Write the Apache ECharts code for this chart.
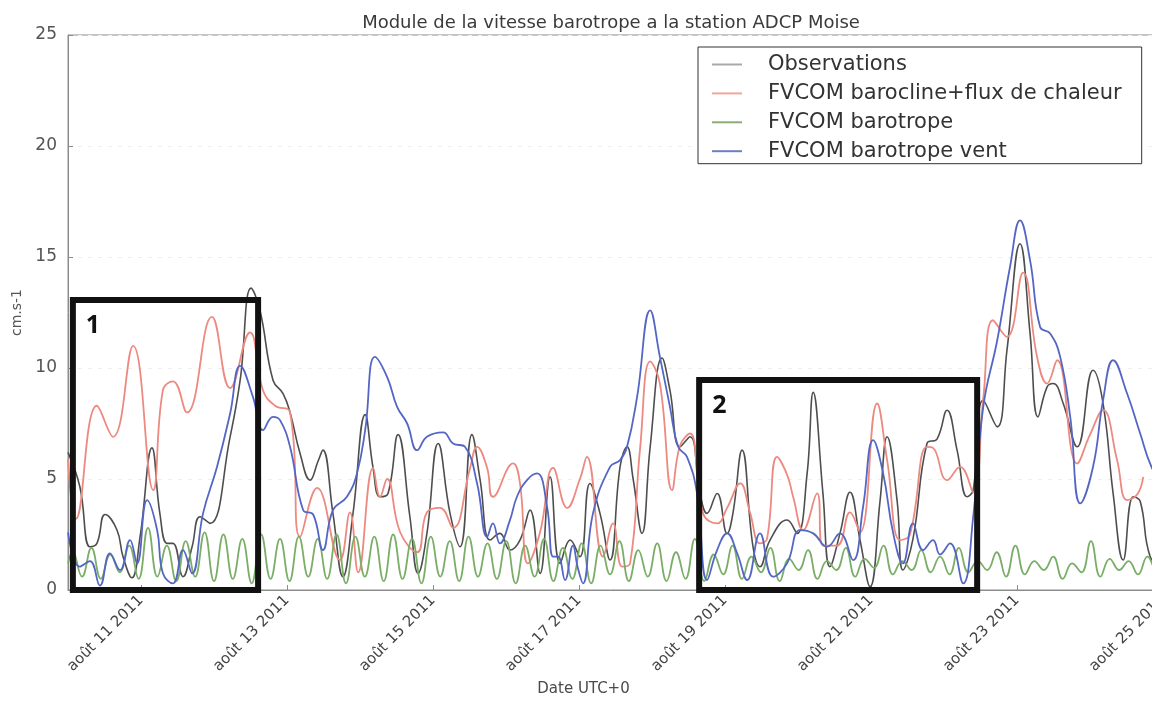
<!DOCTYPE html>
<html>
<head>
<meta charset="utf-8">
<title>Module de la vitesse barotrope</title>
<script src="https://cdn.jsdelivr.net/npm/echarts@6/dist/echarts.min.js"></script>
<style>
  html, body { margin: 0; padding: 0; background: #ffffff; }
  #chart { width: 1152px; height: 706px; }
</style>
</head>
<body>
<div id="chart"></div>
<script>
// Time is given in hours since 10 août 2011 00:00 UTC; speeds in cm/s.
const seriesNames = [
  'Observations',
  'FVCOM barocline+flux de chaleur',
  'FVCOM barotrope',
  'FVCOM barotrope vent'
];

const observations = [
  [0, 6.2], [3.9, 4.65], [7.2, 1.95], [9.5, 2.1], [12.2, 3.4], [16.1, 2.7], [18.1, 1.5],
  [21.0, 0.55], [23.7, 2.4], [27.6, 6.4], [30.2, 3.45], [32.6, 2.1], [34.5, 2.1], [37.8, 0.6],
  [40.8, 1.95], [43.4, 3.3], [46.7, 3.0], [53.3, 6.9], [56.6, 9.45], [60.2, 13.6], [63.1, 12.6],
  [67.4, 9.45], [70.7, 8.85], [73.0, 8.0], [76.3, 6.15], [79.6, 4.95], [82.2, 5.8], [83.8, 6.3],
  [87.1, 3.45], [90.4, 0.6], [93.7, 3.45], [97.7, 7.9], [100.3, 5.5], [102.6, 4.2], [105.2, 4.35],
  [108.5, 7.0], [112.4, 3.3], [115.1, 0.75], [118.0, 2.55], [121.7, 6.6], [125.6, 3.45], [128.9, 1.95],
  [132.8, 7.0], [135.5, 4.95], [138.8, 2.25], [142.0, 2.55], [145.3, 1.8], [148.6, 2.25], [151.9, 3.6],
  [155.2, 0.75], [158.5, 5.1], [161.8, 1.2], [165.1, 2.25], [168.3, 1.5], [171.6, 4.8], [174.9, 3.45],
  [178.2, 1.35], [181.5, 5.55], [183.8, 6.45], [185.8, 5.0], [188.7, 2.55], [191.4, 6.45], [195.3, 10.45],
  [197.9, 9.0], [201.2, 6.45], [204.5, 6.9], [207.8, 4.35], [210.1, 3.45], [213.4, 4.35], [216.7, 2.55],
  [218.6, 3.45], [221.6, 6.3], [225.2, 1.95], [227.5, 1.05], [230.8, 2.25], [236.4, 3.15], [239.7, 2.55],
  [243.0, 5.25], [245.0, 8.9], [248.2, 4.35], [250.5, 1.05], [253.8, 2.55], [257.1, 4.4], [260.4, 2.25],
  [263.7, 0.15], [267.0, 4.05], [269.3, 6.9], [272.6, 4.0], [274.5, 0.9], [277.8, 2.3], [282.4, 6.6],
  [285.7, 6.8], [289.0, 8.1], [292.3, 6.3], [295.6, 4.2], [297.6, 4.5], [300.9, 8.55], [305.5, 7.35],
  [308.7, 10.8], [313.0, 15.6], [316.3, 11.55], [318.9, 7.8], [321.9, 9.15], [323.9, 9.3], [327.2, 8.4],
  [331.8, 6.45], [337.0, 9.9], [340.3, 8.4], [343.6, 4.35], [346.9, 1.35], [350.2, 4.2], [352.5, 4.0],
  [355.8, 1.5], [360, 1.0]
];

const baroclineHeat = [
  [0, 5.9], [2.6, 3.2], [9.5, 8.3], [14.8, 6.9], [21.4, 11.0], [28.0, 4.5], [31.2, 9.0], [34.5, 9.4],
  [39.1, 8.0], [47.3, 12.3], [53.3, 9.1], [59.8, 11.6], [64.1, 9.0], [68.1, 8.3], [73.0, 8.0],
  [76.3, 2.4], [81.9, 4.6], [89.4, 1.35], [92.7, 3.5], [95.4, 0.8], [100.3, 5.5], [102.6, 4.2],
  [104.9, 5.0], [109.2, 2.6], [114.8, 1.7], [118.0, 3.5], [122.3, 3.7], [126.6, 2.8], [132.2, 5.5],
  [134.5, 6.45], [137.8, 5.5], [139.7, 4.2], [146.3, 5.7], [148.6, 4.8], [151.2, 1.2], [155.2, 2.6],
  [159.5, 5.5], [164.1, 3.7], [168.3, 5.0], [170.6, 6.0], [175.9, 1.5], [179.2, 3.0], [182.2, 1.05],
  [184.8, 1.2], [188.1, 6.4], [191.4, 10.3], [194.6, 9.3], [198.6, 4.5], [201.2, 6.5], [204.5, 7.05],
  [208.8, 3.45], [213.4, 3.0], [216.7, 3.7], [221.0, 4.8], [224.2, 3.5], [227.5, 2.1], [229.8, 2.3],
  [233.1, 6.0], [236.4, 5.2], [238.4, 4.2], [241.7, 2.7], [246.3, 4.35], [248.2, 2.0], [252.8, 2.0],
  [257.1, 3.5], [260.4, 2.6], [266.0, 8.4], [269.3, 5.85], [273.6, 2.25], [276.8, 2.5], [282.4, 6.45],
  [284.4, 6.4], [289.0, 4.95], [293.3, 5.55], [297.6, 4.4], [300.9, 8.6], [304.1, 12.15], [308.7, 11.4],
  [314.0, 14.3], [318.6, 10.5], [321.9, 9.3], [325.2, 10.35], [331.8, 5.7], [336.0, 7.0], [340.3, 8.1],
  [344.9, 5.85], [348.2, 4.05], [351.5, 4.3], [353.5, 5.1]
];

const barotrope = [
  [0, 1.2], [1.5, 1.7], [4.6, 0.6], [7.7, 1.9], [10.8, 0.5], [13.9, 1.6], [17.0, 0.8], [20.1, 2.0],
  [23.2, 0.5], [26.3, 2.8], [29.4, 0.6], [32.5, 2.0], [35.6, 0.4], [38.7, 2.2], [41.8, 0.6], [44.9, 2.6],
  [48.0, 0.4], [51.1, 2.5], [54.2, 0.5], [57.3, 2.3], [60.4, 0.3], [63.5, 2.5], [66.6, 0.5], [69.7, 2.3],
  [72.8, 0.4], [75.9, 2.4], [79.0, 0.6], [82.1, 2.3], [85.2, 0.5], [88.3, 2.5], [91.4, 0.3], [94.5, 2.4],
  [97.6, 0.6], [100.7, 2.4], [103.8, 0.4], [106.9, 2.5], [110.0, 0.5], [113.1, 2.3], [116.2, 0.3],
  [119.3, 2.4], [122.4, 0.6], [125.5, 2.2], [128.6, 0.4], [131.7, 2.4], [134.8, 0.6], [137.9, 2.1],
  [141.0, 0.5], [144.1, 2.2], [147.2, 0.3], [150.3, 2.0], [153.4, 0.6], [156.5, 2.3], [159.6, 0.4],
  [162.7, 1.9], [165.8, 0.5], [168.9, 2.1], [172.0, 0.3], [175.1, 2.0], [178.2, 0.7], [181.3, 2.2],
  [184.4, 0.4], [187.5, 1.8], [190.6, 0.6], [193.7, 2.1], [196.8, 0.4], [199.9, 1.7], [203.0, 0.5],
  [206.1, 2.3], [209.2, 0.4], [212.3, 1.6], [215.4, 0.7], [218.5, 2.0], [221.6, 0.5], [224.7, 1.5],
  [227.8, 0.8], [230.9, 1.9], [234.0, 0.4], [237.1, 1.4], [240.2, 0.9], [243.3, 1.8], [246.4, 0.5],
  [249.5, 1.3], [252.6, 0.9], [255.7, 1.9], [258.8, 0.6], [261.9, 1.4], [265.0, 1.0], [268.1, 2.0],
  [271.2, 0.7], [274.3, 1.3], [277.4, 0.9], [280.5, 1.8], [283.6, 0.8], [286.7, 1.5], [289.8, 0.7],
  [292.9, 1.9], [296.0, 0.8], [299.1, 1.3], [302.2, 0.9], [305.3, 1.7], [308.4, 0.6], [311.5, 2.0],
  [314.6, 0.7], [317.7, 1.3], [320.8, 0.9], [323.9, 1.5], [327.0, 0.5], [330.1, 1.2], [333.2, 0.8],
  [336.3, 2.2], [339.4, 0.6], [342.5, 1.4], [345.6, 0.9], [348.7, 1.3], [351.8, 0.7], [354.9, 1.5],
  [358.0, 0.9], [360, 1.2]
];

const barotropeWind = [
  [0, 2.6], [3.9, 1.05], [7.2, 1.3], [10.5, 0.2], [13.8, 1.65], [17.1, 0.9], [20.4, 2.25], [22.7, 1.2],
  [26.0, 4.05], [29.3, 2.7], [31.2, 0.75], [34.5, 0.3], [37.8, 1.8], [40.8, 0.75], [44.4, 3.45],
  [49.0, 5.55], [53.3, 7.95], [56.6, 10.1], [60.8, 8.7], [64.1, 7.2], [67.4, 7.8], [69.7, 7.65],
  [73.0, 6.45], [77.3, 3.6], [80.6, 3.4], [83.8, 1.8], [87.1, 3.6], [91.7, 4.2], [95.0, 5.25],
  [97.7, 7.2], [100.9, 10.5], [104.9, 9.6], [108.2, 8.25], [111.5, 7.5], [114.8, 6.3], [118.0, 6.9],
  [123.3, 7.1], [126.6, 6.6], [130.5, 6.45], [134.5, 4.8], [137.8, 2.4], [139.7, 3.0], [142.0, 2.1],
  [145.3, 3.15], [147.6, 4.2], [150.9, 4.95], [154.2, 5.25], [157.5, 3.75], [159.5, 1.5], [161.1, 1.5],
  [163.4, 0.45], [166.0, 2.0], [167.6, 1.0], [169.3, 0.3], [172.6, 3.45], [178.2, 5.55], [181.5, 5.85],
  [183.8, 6.45], [187.1, 8.7], [191.4, 12.6], [194.6, 10.5], [197.9, 8.25], [200.6, 6.45], [203.5, 6.0],
  [206.8, 4.35], [210.1, 0.45], [213.4, 1.8], [216.7, 2.55], [220.0, 1.65], [223.3, 0.45], [227.5, 2.55],
  [231.8, 0.6], [236.4, 1.2], [240.7, 2.7], [245.0, 2.55], [249.6, 1.95], [253.8, 2.55], [258.1, 1.35],
  [261.4, 3.75], [264.7, 6.75], [268.0, 5.25], [271.3, 2.55], [274.5, 1.2], [277.8, 3.0], [281.1, 1.8],
  [284.4, 2.25], [286.7, 1.6], [290.0, 2.1], [294.3, 0.3], [297.6, 3.3], [300.9, 8.25], [305.5, 11.25],
  [309.7, 14.55], [313.0, 16.65], [316.3, 14.85], [319.6, 11.85], [322.9, 11.55], [326.2, 10.5],
  [329.5, 7.8], [332.8, 3.9], [337.0, 5.55], [340.3, 8.55], [343.6, 10.35], [348.2, 8.85], [352.5, 7.05],
  [356.2, 5.55], [360, 4.8]
];

// Highlighted periods: [startHour, endHour, topSpeed, label]
const highlightPeriods = [
  [1.6, 62.5, 13.06, '1'],
  [207.5, 298.9, 9.46, '2']
];

// Days of August carrying a tick label
const dateTicks = [11, 13, 15, 17, 19, 21, 23, 25];

const toDay = h => 10 + h / 24;
const toPoints = arr => arr.map(([h, v]) => [toDay(h), v]);

const lineColors = ['#4e4e4e', '#ec8a80', '#7aae66', '#5466c4'];
const legendColors = ['#a9a9a9', '#f0a69c', '#8eab78', '#6f7ec4'];
const seriesData = [observations, baroclineHeat, barotrope, barotropeWind];

const FONT = 'DejaVu Sans';

const chart = echarts.init(document.getElementById('chart'), null, { renderer: 'canvas' });

const series = seriesData.map((d, i) => ({
  name: seriesNames[i],
  type: 'line',
  data: toPoints(d),
  symbol: 'none',
  smooth: 0.45,
  lineStyle: { color: lineColors[i], width: i === 0 ? 1.6 : 1.8 },
  itemStyle: { color: lineColors[i] },
  z: 2 + i
}));

// Framed periods, drawn with the observation series
series[0].markArea = {
  silent: true,
  z: 10,
  itemStyle: { color: 'rgba(0,0,0,0)', borderColor: '#111111', borderWidth: 6 },
  label: {
    show: true,
    position: 'insideTopLeft',
    distance: 16,
    color: '#111111',
    fontFamily: 'Open Sans',
    fontWeight: 'bold',
    fontSize: 25
  },
  data: highlightPeriods.map(([h0, h1, top, label]) => [
    { coord: [toDay(h0), -0.1], name: label },
    { coord: [toDay(h1), top] }
  ])
};

chart.setOption({
  animation: false,
  backgroundColor: '#ffffff',
  title: {
    text: 'Module de la vitesse barotrope a la station ADCP Moise',
    left: 606,
    top: 9,
    textAlign: 'center',
    textStyle: { fontFamily: FONT, fontSize: 18, fontWeight: 'normal', color: '#3a3a3a' }
  },
  legend: {
    orient: 'vertical',
    left: 698,
    top: 47,
    padding: [7, 20, 2, 14],
    itemWidth: 30,
    itemHeight: 2,
    itemGap: 7.9,
    icon: 'rect',
    backgroundColor: '#ffffff',
    borderColor: '#333333',
    borderWidth: 1,
    borderRadius: 0,
    textStyle: { fontFamily: FONT, fontSize: 21, color: '#333333', padding: [0, 0, 0, 21] },
    data: seriesNames.map((n, i) => ({
      name: n,
      itemStyle: { color: legendColors[i] }
    }))
  },
  grid: {
    left: 68,
    width: 1095,
    top: 35,
    bottom: 116,
    outerBoundsMode: 'none',
    show: true,
    borderColor: '#8c8c8c',
    borderWidth: 1,
    backgroundColor: 'rgba(0,0,0,0)'
  },
  xAxis: {
    type: 'value',
    min: 10,
    max: 25,
    name: 'Date UTC+0',
    nameLocation: 'middle',
    nameGap: 92,
    nameTextStyle: { fontFamily: FONT, fontSize: 15, color: '#4a4a4a', padding: [0, 64, 0, 0] },
    axisLine: { lineStyle: { color: '#8c8c8c' } },
    axisTick: { show: true, inside: true, length: 5, customValues: dateTicks, lineStyle: { color: '#8c8c8c' } },
    axisLabel: {
      customValues: dateTicks,
      rotate: 45,
      margin: 8,
      fontFamily: FONT,
      fontSize: 15,
      color: '#444444',
      formatter: v => 'août ' + v + ' 2011'
    },
    splitLine: { show: false }
  },
  yAxis: {
    type: 'value',
    min: 0,
    max: 25,
    interval: 5,
    name: 'cm.s-1',
    nameLocation: 'middle',
    nameRotate: 90,
    nameGap: 44,
    nameTextStyle: { fontFamily: FONT, fontSize: 14, color: '#555555' },
    axisLine: { show: true, lineStyle: { color: '#8c8c8c' } },
    axisTick: { show: true, inside: true, length: 5, lineStyle: { color: '#8c8c8c' } },
    axisLabel: { margin: 11, fontFamily: FONT, fontSize: 17, color: '#555555' },
    splitLine: { show: true, lineStyle: { color: '#eeeeee', type: [4, 6] } }
  },
  series: series
});
</script>
</body>
</html>
